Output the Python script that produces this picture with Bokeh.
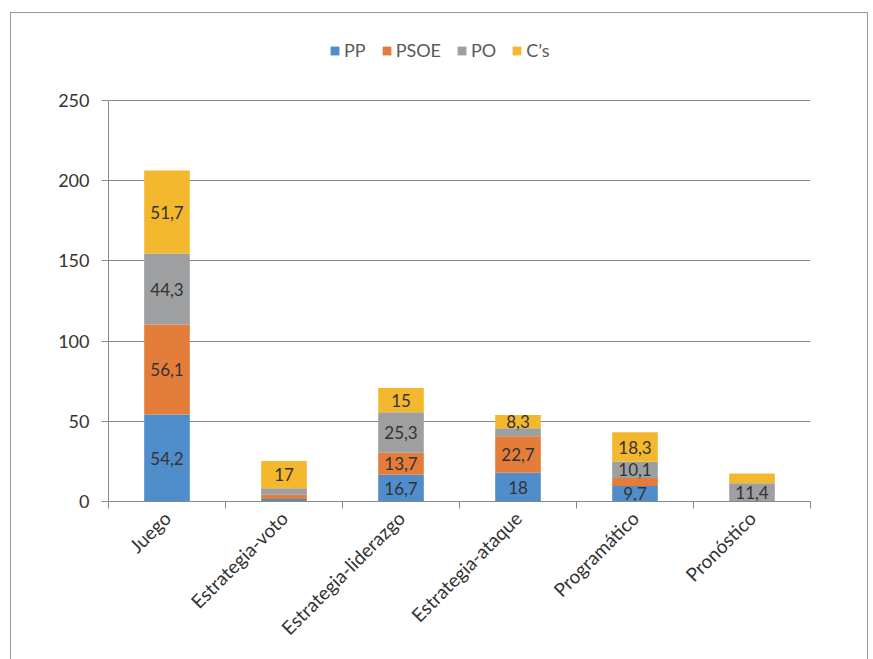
import math
from bokeh.plotting import figure
from bokeh.models import (ColumnDataSource, FixedTicker, Legend, LegendItem, Range1d)
from bokeh.core.properties import value
from bokeh.embed import file_html
from bokeh.resources import INLINE

categories = ["Juego", "Estrategia-voto", "Estrategia-liderazgo",
              "Estrategia-ataque", "Programático", "Pronóstico"]
series = ["PP", "PSOE", "PO", "C's"]
legend_labels = ["PP", "PSOE", "PO", "C’s"]
pp = [54.2, 1.5, 16.7, 18.0, 9.7, 0.0]
psoe = [56.1, 2.7, 13.7, 22.7, 5.0, 0.0]
po = [44.3, 4.0, 25.3, 5.0, 10.1, 11.4]
cs = [51.7, 17.0, 15.0, 8.3, 18.3, 6.0]
# value labels shown on the chart ("" = not shown)
pp_lbl = ["54,2", "", "16,7", "18", "9,7", ""]
psoe_lbl = ["56,1", "", "13,7", "22,7", "", ""]
po_lbl = ["44,3", "", "25,3", "", "10,1", "11,4"]
cs_lbl = ["51,7", "17", "15", "8,3", "18,3", ""]
y_ticks = [0, 50, 100, 150, 200, 250]

colors = ["#4F8DCB", "#E47D3A", "#9D9FA0", "#F4B82E"]
FONT = "Lato"
TXT = "#333333"

xs = [i + 0.5 for i in range(len(categories))]
data = dict(x=xs, PP=pp, PSOE=psoe, PO=po)
data["C's"] = cs
src = ColumnDataSource(data)

# frame spans canvas y 30..501; the 0..250 axis spans 100..501
Y_TOP = 250 * 471 / 401

p = figure(width=858, height=660, output_backend="svg", toolbar_location=None,
           x_range=Range1d(0, len(categories)), y_range=Range1d(0, Y_TOP),
           min_border_left=97, min_border_right=59, min_border_top=17,
           min_border_bottom=172)
p.margin = (12, 0, 0, 10)
p.styles = {"border": "1px solid #9a9a9a", "box-sizing": "border-box"}
p.outline_line_color = None
p.background_fill_color = "white"
p.border_fill_color = "white"

renderers = p.vbar_stack(series, x="x", width=0.39, color=colors, source=src,
                         line_color=None)

# value labels
stacks = [pp, psoe, po, cs]
labels = [pp_lbl, psoe_lbl, po_lbl, cs_lbl]
lx, ly, lt = [], [], []
base = [0.0] * len(categories)
for vals, lbls in zip(stacks, labels):
    for i, (v, t) in enumerate(zip(vals, lbls)):
        if t:
            lx.append(xs[i])
            ly.append(base[i] + v / 2)
            lt.append(t)
        base[i] += v
p.text(x=lx, y=ly, text=lt, text_align="center", text_baseline="middle",
       text_font=value(FONT), text_font_size="17px", text_color=TXT)

# axes
p.xaxis.ticker = FixedTicker(ticks=xs, minor_ticks=list(range(len(categories) + 1)))
p.xaxis.major_label_overrides = {x: c for x, c in zip(xs, categories)}
p.xaxis.major_label_orientation = math.pi / 4
p.xaxis.major_tick_out = 0
p.xaxis.major_tick_in = 0
p.xaxis.minor_tick_out = 7
p.xaxis.minor_tick_in = 0
p.xaxis.minor_tick_line_color = "#888888"
p.xaxis.axis_line_color = "#888888"
p.xaxis.major_label_text_font = FONT
p.xaxis.major_label_text_font_size = "19px"
p.xaxis.major_label_text_color = TXT
p.xaxis.major_label_standoff = 6

p.yaxis.ticker = FixedTicker(ticks=y_ticks)
p.yaxis.bounds = (0, 250)
p.yaxis.minor_tick_line_color = None
p.yaxis.major_tick_out = 7
p.yaxis.major_tick_in = 0
p.yaxis.major_tick_line_color = "#888888"
p.yaxis.axis_line_color = "#888888"
p.yaxis.major_label_text_font = FONT
p.yaxis.major_label_text_font_size = "18px"
p.yaxis.major_label_text_color = TXT
p.yaxis.major_label_standoff = 12

p.xgrid.grid_line_color = None
p.ygrid.ticker = FixedTicker(ticks=y_ticks)
p.ygrid.grid_line_color = "#888888"
p.ygrid.grid_line_width = 1

legend = Legend(items=[LegendItem(label=l, renderers=[r]) for l, r in zip(legend_labels, renderers)],
                orientation="horizontal", location=(221, 440),
                glyph_width=11, glyph_height=11, label_standoff=4, spacing=15,
                padding=0, margin=0, border_line_color=None,
                background_fill_alpha=0,
                label_text_font=FONT, label_text_font_size="18px",
                label_text_color="#595959")
p.add_layout(legend, "center")

open("out.html", "w").write(file_html(p, INLINE))
